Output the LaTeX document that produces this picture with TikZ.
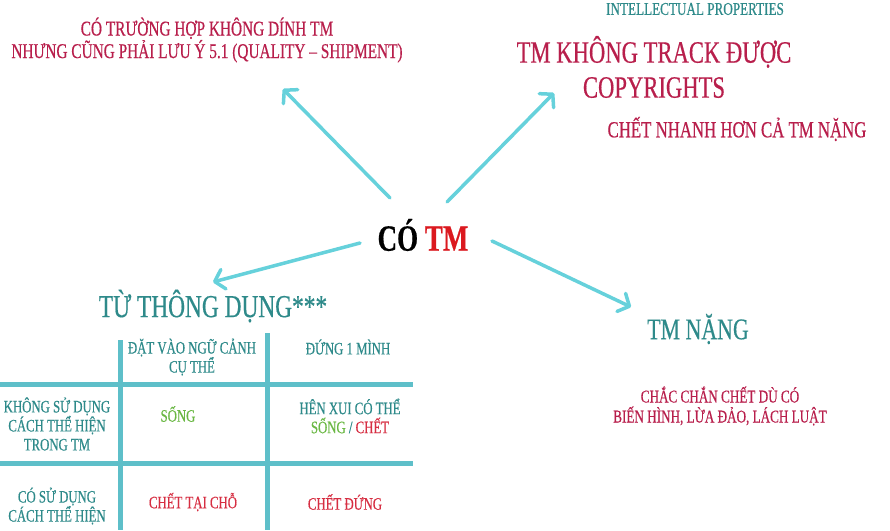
\documentclass[tikz,border=0pt]{standalone}
\usepackage{fontspec}
\setmainfont[FakeStretch=0.73,FakeBold=0.5]{Liberation Serif}
\usetikzlibrary{arrows.meta}
\newlength{\du}
\setlength{\du}{1pt}

\begin{document}
\begin{tikzpicture}
\pgftransformxscale{1.000000}
\pgftransformyscale{-1.000000}
\definecolor{rosecolor}{rgb}{0.720000, 0.120000, 0.300000}
\definecolor{tealcolor}{rgb}{0.180000, 0.540000, 0.540000}
\definecolor{cyancolor}{rgb}{0.400000, 0.820000, 0.860000}
\definecolor{gridcolor}{rgb}{0.370000, 0.750000, 0.790000}
\definecolor{alivecolor}{rgb}{0.420000, 0.720000, 0.270000}
\definecolor{deadcolor}{rgb}{0.840000, 0.180000, 0.260000}
\definecolor{tmcolor}{rgb}{0.860000, 0.100000, 0.120000}
\tikzset{
  rosetext/.style={text=rosecolor, inner sep=0pt, align=center},
  tealtext/.style={text=tealcolor, inner sep=0pt, align=center},
  link/.style={draw=cyancolor, line width=3.5pt, line cap=round,
    -{Straight Barb[length=9pt,width=20pt,round]}},
  grid/.style={draw=gridcolor, line width=5pt},
  cell/.style={tealtext, font=\fontsize{17.5}{19}\selectfont}
}
\useasboundingbox (0\du,0\du) rectangle (890\du,530\du);
% setfont left to latex
\node[rosetext, font=\fontsize{21}{21}\selectfont] (case) at (207\du,40\du){CÓ TRƯỜNG HỢP KHÔNG DÍNH TM\\NHƯNG CŨNG PHẢI LƯU Ý 5.1 (QUALITY -- SHIPMENT)};
% setfont left to latex
\node[tealtext, font=\fontsize{18}{18}\selectfont] (ip) at (695\du,9\du){INTELLECTUAL PROPERTIES};
% setfont left to latex
\node[rosetext, font=\fontsize{31}{35}\selectfont] (track) at (654\du,67\du){TM KHÔNG TRACK ĐƯỢC\\COPYRIGHTS};
% setfont left to latex
\node[rosetext, font=\fontsize{23}{23}\selectfont] (fast) at (737\du,129\du){CHẾT NHANH HƠN CẢ TM NẶNG};
% setfont left to latex
\node[inner sep=0pt, font=\fontsize{37}{37}\selectfont\bfseries] (ctm) at (423\du,235\du){CÓ \textcolor{tmcolor}{TM}};
% setfont left to latex
\node[tealtext, font=\fontsize{32}{32}\selectfont] (common) at (213\du,306\du){TỪ THÔNG DỤNG***};
% setfont left to latex
\node[tealtext, font=\fontsize{30}{30}\selectfont] (heavy) at (698\du,329\du){TM NẶNG};
% setfont left to latex
\node[rosetext, font=\fontsize{18}{20}\selectfont] (sure) at (720\du,406\du){CHẮC CHẮN CHẾT DÙ CÓ\\BIẾN HÌNH, LỪA ĐẢO, LÁCH LUẬT};
% arrow ends
\coordinate (ctm-nw) at (390\du,198\du);
\coordinate (ctm-ne) at (447\du,202\du);
\coordinate (ctm-sw) at (360\du,243\du);
\coordinate (ctm-se) at (492\du,241\du);
\coordinate (case-tip) at (283\du,89\du);
\coordinate (track-tip) at (554\du,93\du);
\coordinate (common-tip) at (213\du,282\du);
\coordinate (heavy-tip) at (631\du,307\du);
\draw[link] (ctm-nw)--(case-tip);
\draw[link] (ctm-ne)--(track-tip);
\draw[link] (ctm-sw)--(common-tip);
\draw[link] (ctm-se)--(heavy-tip);
% table grid
\draw[grid] (120\du,340\du)--(120\du,530\du);
\draw[grid] (267\du,333\du)--(267\du,530\du);
\draw[grid] (0\du,384\du)--(413\du,384\du);
\draw[grid] (0\du,463\du)--(413\du,463\du);
% setfont left to latex
\node[cell] (head-context) at (192\du,357\du){ĐẶT VÀO NGỮ CẢNH\\CỤ THỂ};
\node[cell] (head-alone) at (348\du,347\du){ĐỨNG 1 MÌNH};
\node[cell] (row-without) at (57\du,424\du){KHÔNG SỬ DỤNG\\CÁCH THỂ HIỆN\\TRONG TM};
\node[cell, text=alivecolor] (without-context) at (178\du,414\du){SỐNG};
\node[cell] (without-alone) at (350\du,416\du){HÊN XUI CÓ THỂ\\\textcolor{alivecolor}{SỐNG} / \textcolor{deadcolor}{CHẾT}};
\node[cell] (row-with) at (57\du,506\du){CÓ SỬ DỤNG\\CÁCH THỂ HIỆN};
\node[cell, text=deadcolor] (with-context) at (193\du,502\du){CHẾT TẠI CHỖ};
\node[cell, text=deadcolor] (with-alone) at (345\du,502\du){CHẾT ĐỨNG};
\end{tikzpicture}
\end{document}
